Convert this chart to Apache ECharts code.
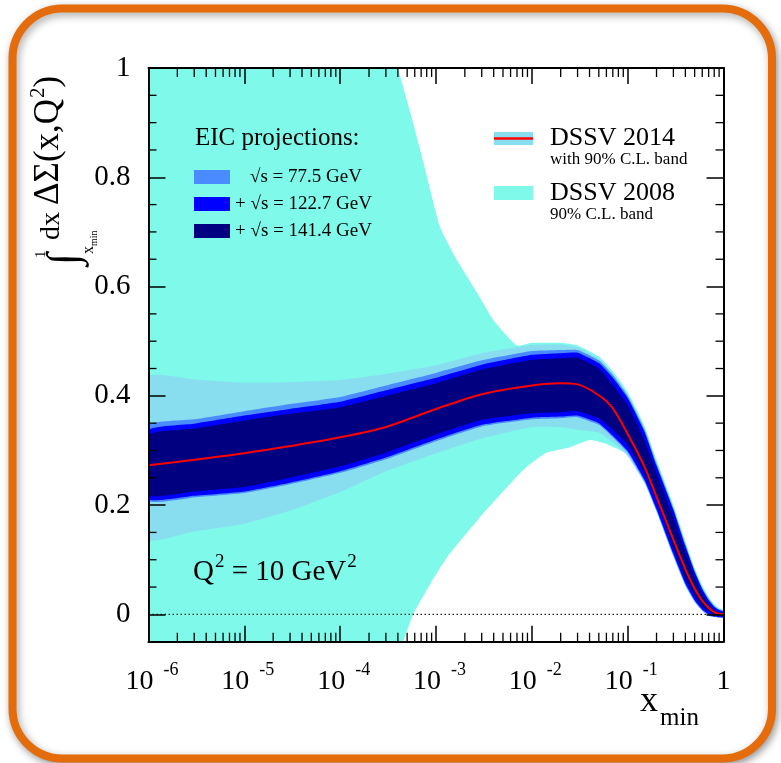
<!DOCTYPE html>
<html><head><meta charset="utf-8">
<script src="https://cdn.jsdelivr.net/npm/echarts@6/dist/echarts.min.js"></script>
<style>html,body{margin:0;padding:0;background:#fff}#c{width:781px;height:763px}</style>
</head><body><div id="c"></div>
<script>
// ---------- data ----------
const xGrid = [1e-6, 3e-6, 1e-5, 3e-5, 1e-4, 3e-4, 1e-3, 3e-3, 1e-2, 2e-2, 3e-2, 5e-2, 7e-2, 0.1, 0.15, 0.2, 0.3, 0.4, 0.5, 0.6, 0.7, 0.8, 0.9, 1.0];
const dssv14Central = [0.273, 0.283, 0.295, 0.308, 0.324, 0.343, 0.376, 0.403, 0.419, 0.423, 0.421, 0.401, 0.377, 0.330, 0.270, 0.215, 0.137, 0.083, 0.047, 0.025, 0.012, 0.004, 0.001, 0.000];
const dssv14Upper   = [0.435, 0.430, 0.424, 0.425, 0.429, 0.440, 0.456, 0.478, 0.493, 0.494, 0.489, 0.468, 0.440, 0.402, 0.340, 0.278, 0.196, 0.130, 0.082, 0.050, 0.030, 0.017, 0.010, 0.007];
const dssv14Lower   = [0.137, 0.152, 0.166, 0.190, 0.224, 0.262, 0.295, 0.322, 0.343, 0.343, 0.338, 0.333, 0.315, 0.290, 0.240, 0.188, 0.105, 0.052, 0.022, 0.006, -0.002, -0.005, -0.006, -0.006];
const eic775Upper   = [0.346, 0.357, 0.372, 0.385, 0.398, 0.419, 0.442, 0.465, 0.482, 0.484, 0.484, 0.465, 0.438, 0.400, 0.338, 0.276, 0.194, 0.128, 0.080, 0.048, 0.028, 0.015, 0.009, 0.006];
const eic775Lower   = [0.208, 0.214, 0.222, 0.238, 0.259, 0.284, 0.317, 0.344, 0.357, 0.359, 0.361, 0.347, 0.324, 0.296, 0.243, 0.190, 0.108, 0.054, 0.024, 0.007, -0.002, -0.005, -0.006, -0.006];
const eic1227Upper  = [0.337, 0.349, 0.364, 0.376, 0.389, 0.410, 0.433, 0.457, 0.475, 0.478, 0.479, 0.460, 0.433, 0.396, 0.334, 0.272, 0.191, 0.125, 0.078, 0.046, 0.026, 0.014, 0.008, 0.005];
const eic1227Lower  = [0.211, 0.217, 0.225, 0.241, 0.262, 0.287, 0.320, 0.347, 0.360, 0.362, 0.364, 0.350, 0.327, 0.299, 0.246, 0.193, 0.111, 0.057, 0.026, 0.009, 0.000, -0.004, -0.005, -0.005];
const eic1414Upper  = [0.328, 0.340, 0.355, 0.367, 0.379, 0.400, 0.423, 0.448, 0.466, 0.469, 0.470, 0.450, 0.420, 0.383, 0.318, 0.258, 0.177, 0.114, 0.068, 0.037, 0.019, 0.008, 0.004, 0.003];
const eic1414Lower  = [0.218, 0.225, 0.233, 0.250, 0.271, 0.296, 0.329, 0.356, 0.368, 0.370, 0.372, 0.359, 0.338, 0.311, 0.257, 0.208, 0.122, 0.066, 0.035, 0.014, 0.006, 0.000, -0.002, -0.003];

const dssv08UpperX = [1e-6, 1e-5, 1e-4, 2.5e-4, 4.0e-4, 5.4e-4, 7.3e-4, 1.1e-3, 1.66e-3, 2.7e-3, 4.0e-3, 7.0e-3, 1e-2, 2e-2, 3e-2, 5e-2, 7e-2, 0.1, 0.15, 0.2, 0.3, 0.4, 0.5, 0.6, 0.7, 0.8, 0.9, 1.0];
const dssv08Upper  = [1.6, 1.5, 1.3, 1.12, 1.0, 0.918, 0.831, 0.709, 0.648, 0.588, 0.538, 0.492, 0.497, 0.497, 0.492, 0.472, 0.445, 0.407, 0.345, 0.283, 0.200, 0.134, 0.085, 0.053, 0.032, 0.019, 0.011, 0.008];
const dssv08LowerX = [1e-6, 1e-4, 2.5e-4, 3.55e-4, 4.6e-4, 5.85e-4, 8.8e-4, 1.35e-3, 3.3e-3, 8.1e-3, 1.38e-2, 2.5e-2, 4e-2, 5.75e-2, 0.1, 0.135, 0.22, 0.275, 0.4, 0.5, 0.6, 0.7, 0.8, 0.9, 1.0];
const dssv08Lower  = [-2.0, -1.0, -0.3, -0.13, -0.048, 0.002, 0.057, 0.108, 0.190, 0.264, 0.295, 0.306, 0.319, 0.313, 0.293, 0.264, 0.178, 0.141, 0.062, 0.030, 0.012, 0.003, -0.002, -0.004, -0.005];

const yMajorTicks = [0, 0.2, 0.4, 0.6, 0.8, 1];
const yMinorTicks = [0.05, 0.1, 0.15, 0.25, 0.3, 0.35, 0.45, 0.5, 0.55, 0.65, 0.7, 0.75, 0.85, 0.9, 0.95];
const xDecades = [1e-6, 1e-5, 1e-4, 1e-3, 1e-2, 1e-1];
const xMinorMult = [2, 3, 4, 5, 6, 7, 8, 9];
const xMinorTicks = [];
xDecades.forEach(d => xMinorMult.forEach(m => xMinorTicks.push(m * d)));

const eicTitle = 'EIC projections:';
const eicNames = ['√s = 77.5 GeV', '+ √s = 122.7 GeV', '+ √s = 141.4 GeV'];
const dssvNames = ['DSSV 2014', 'DSSV 2008'];
const dssvNotes = ['with 90% C.L. band', '90% C.L. band'];

// ---------- helpers ----------
const SERIF = '"Liberation Serif", "Times New Roman", serif';
const C_CYAN = '#7ff9e9', C_LB = '#88ddee', C_775 = '#4a8cff', C_1227 = '#0000ff', C_1414 = '#000080';

function band(name, ux, uy, lx, ly, color) {
  return {
    type: 'custom', name: name, coordinateSystem: 'cartesian2d', silent: true,
    data: [[1e-3, 0.5]], itemStyle: { color: color },
    renderItem: function (params, api) {
      const up = [], lo = [];
      for (let i = 0; i < ux.length; i++) up.push(api.coord([ux[i], uy[i]]));
      for (let i = lx.length - 1; i >= 0; i--) lo.push(api.coord([lx[i], ly[i]]));
      const cs = params.coordSys;
      const clip = { type: 'rect', shape: { x: cs.x, y: cs.y, width: cs.width, height: cs.height } };
      return {
        type: 'polygon', shape: { points: up.concat(lo), smooth: 0.15 }, style: { fill: color },
        clipPath: clip
      };
    }
  };
}

function txt(t, x, baseline, fs, extra) {
  return Object.assign({
    type: 'text', x: x, y: baseline - 0.34 * fs, z: 50,
    style: { text: t, font: fs + 'px ' + SERIF, fill: '#000', align: 'left', verticalAlign: 'middle' }
  }, extra || {});
}
function swatch(x, y, w, h, color) {
  return { type: 'rect', z: 50, shape: { x: x, y: y, width: w, height: h }, style: { fill: color } };
}
const mctx = document.createElement('canvas').getContext('2d');
function tw(t, fs) { mctx.font = fs + 'px ' + SERIF; return mctx.measureText(t).width; }

// y-axis title (rotated), local coords: baseline at y=0, text runs along +x
function yTitle() {
  const ch = [];
  ch.push(txt('∫', 2, 19, 44));
  ch.push(txt('1', 9, -15, 15));
  ch.push(txt('x', 13, 33, 16));
  ch.push(txt('min', 13 + tw('x', 16), 37, 10));
  ch.push(txt('dx', 27, 0, 28));
  let x = 27 + tw('dx ', 28);
  const fs = 35;
  ch.push(txt('ΔΣ(x,Q', x, 0, fs)); x += tw('ΔΣ(x,Q', fs);
  ch.push(txt('2', x + 1, -15, 21)); x += tw('2', 21) + 1;
  ch.push(txt(')', x, 0, fs));
  return { type: 'group', x: 61, y: 267, rotation: Math.PI / 2, z: 50, children: ch };
}

function qLabel() {
  const ch = []; let x = 193; const b = 582, fs = 29, sfs = 19;
  ch.push(txt('Q', x, b, fs)); x += tw('Q', fs);
  ch.push(txt('2', x + 1, b - 14, sfs)); x += tw('2', sfs) + 1;
  ch.push(txt(' = 10 GeV', x, b, fs)); x += tw(' = 10 GeV', fs);
  ch.push(txt('2', x + 1, b - 14, sfs));
  return ch;
}

function legendGraphics() {
  const g = [];
  g.push(txt(eicTitle, 195, 147, 25));
  const eicCols = [C_775, C_1227, C_1414];
  const eicTop = [170, 197, 224];
  eicNames.forEach((n, i) => {
    g.push(swatch(194, eicTop[i], 36, 14, eicCols[i]));
    g.push(txt(n, n.charAt(0) === '√' ? 250 : 235, eicTop[i] + 7 + 6.5, 19));
  });
  g.push(swatch(494, 132, 39, 13, C_LB));
  g.push({ type: 'line', z: 51, shape: { x1: 494, y1: 138.5, x2: 533, y2: 138.5 }, style: { stroke: '#ff0000', lineWidth: 2.5 } });
  g.push(txt(dssvNames[0], 550, 147, 26));
  g.push(txt(dssvNotes[0], 550, 165, 17));
  g.push(swatch(494, 186, 39, 14, C_CYAN));
  g.push(txt(dssvNames[1], 550, 202, 26));
  g.push(txt(dssvNotes[1], 550, 220, 17));
  return g;
}

const chart = echarts.init(document.getElementById('c'), null, { renderer: 'canvas' });

const xLabelRich = {
  b: { fontSize: 28, fontFamily: SERIF, color: '#000', lineHeight: 28, padding: [12, 0, 0, 7] },
  o: { fontSize: 28, fontFamily: SERIF, color: '#000', lineHeight: 28, padding: [12, 0, 0, 0] },
  s: { fontSize: 18, fontFamily: SERIF, color: '#000', lineHeight: 18, verticalAlign: 'top', padding: [0, 0, 0, 10] }
};

const option = {
  animation: false,
  backgroundColor: '#fff',
  grid: { left: 148.5, right: 57.5, top: 68, bottom: 121.3, containLabel: false, outerBoundsMode: 'none' },
  xAxis: [
    {
      type: 'log', logBase: 10, min: 1e-6, max: 1, position: 'bottom', z: 10,
      axisLine: { show: true, onZero: false, lineStyle: { color: '#000', width: 2 } },
      axisTick: { show: true, inside: true, length: 16, lineStyle: { color: '#000', width: 1.5 } },
      splitLine: { show: false }, minorTick: { show: false },
      axisLabel: {
        margin: 20, color: '#000',
        formatter: function (v) {
          const e = Math.round(Math.log10(v));
          if (e === 0) return '{o|1}';
          return '{b|10}{s|' + e + '}';
        },
        rich: xLabelRich
      }
    },
    {
      type: 'log', logBase: 10, min: 1e-6, max: 1, position: 'top', z: 10,
      axisLine: { show: true, onZero: false, lineStyle: { color: '#000', width: 2 } },
      axisTick: { show: true, inside: true, length: 16, lineStyle: { color: '#000', width: 1.5 } },
      splitLine: { show: false }, axisLabel: { show: false }
    }
  ],
  yAxis: [
    {
      type: 'value', min: -0.05, max: 1, position: 'left', z: 10,
      axisLine: { show: true, onZero: false, lineStyle: { color: '#000', width: 2 } },
      axisTick: { show: true, inside: true, length: 17, customValues: yMajorTicks, lineStyle: { color: '#000', width: 1.5 } },
      splitLine: { show: false },
      axisLabel: {
        customValues: yMajorTicks, margin: 18, color: '#000', fontSize: 29, fontFamily: SERIF,
        formatter: function (v) { return (v === 0 || v === 1) ? String(v) : v.toFixed(1); }
      }
    },
    {
      type: 'value', min: -0.05, max: 1, position: 'right', z: 10,
      axisLine: { show: true, onZero: false, lineStyle: { color: '#000', width: 2 } },
      axisTick: { show: true, inside: true, length: 17, customValues: yMajorTicks, lineStyle: { color: '#000', width: 1.5 } },
      splitLine: { show: false }, axisLabel: { show: false }
    }
  ],
  graphic: [
    { type: 'rect', z: -10, shape: { x: 12.5, y: 8.5, width: 759.5, height: 750, r: 50 },
      style: { fill: '#fff', stroke: '#e46c0a', lineWidth: 8, shadowBlur: 8, shadowColor: 'rgba(0,0,0,0.35)', shadowOffsetX: 2, shadowOffsetY: 3 } },
    txt('x', 640, 714, 36),
    txt('min', 660, 727, 25),
    yTitle()
  ].concat(qLabel(), legendGraphics()),
  series: [
    band('DSSV 2008', dssv08UpperX, dssv08Upper, dssv08LowerX, dssv08Lower, C_CYAN),
    {
      type: 'line', name: 'zero', data: [[1e-6, 0], [1, 0]], symbol: 'none', silent: true,
      lineStyle: { color: '#222', width: 1.2, type: [1.5, 2.5] }
    },
    band('DSSV 2014', xGrid, dssv14Upper, xGrid, dssv14Lower, C_LB),
    band(eicNames[0], xGrid, eic775Upper, xGrid, eic775Lower, C_775),
    band(eicNames[1], xGrid, eic1227Upper, xGrid, eic1227Lower, C_1227),
    band(eicNames[2], xGrid, eic1414Upper, xGrid, eic1414Lower, C_1414),
    {
      type: 'line', name: 'DSSV 2014 central', data: xGrid.map((x, i) => [x, dssv14Central[i]]),
      symbol: 'none', smooth: 0.3, silent: true, z: 3,
      lineStyle: { color: '#ff0000', width: 2 }
    },
    {
      type: 'custom', name: 'minor ticks', coordinateSystem: 'cartesian2d', silent: true, z: 20,
      data: [[1e-3, 0.5]],
      renderItem: function (params, api) {
        const cs = params.coordSys; const ch = [];
        const st = { stroke: '#000', lineWidth: 1.3 };
        xMinorTicks.forEach(v => {
          const px = api.coord([v, 0])[0];
          ch.push({ type: 'line', shape: { x1: px, y1: cs.y + cs.height, x2: px, y2: cs.y + cs.height - 9 }, style: st });
          ch.push({ type: 'line', shape: { x1: px, y1: cs.y, x2: px, y2: cs.y + 9 }, style: st });
        });
        yMinorTicks.forEach(v => {
          const py = api.coord([1e-3, v])[1];
          ch.push({ type: 'line', shape: { x1: cs.x, y1: py, x2: cs.x + 8, y2: py }, style: st });
          ch.push({ type: 'line', shape: { x1: cs.x + cs.width, y1: py, x2: cs.x + cs.width - 8, y2: py }, style: st });
        });
        return { type: 'group', children: ch };
      }
    }
  ]
};
chart.setOption(option);
</script>
</body></html>
